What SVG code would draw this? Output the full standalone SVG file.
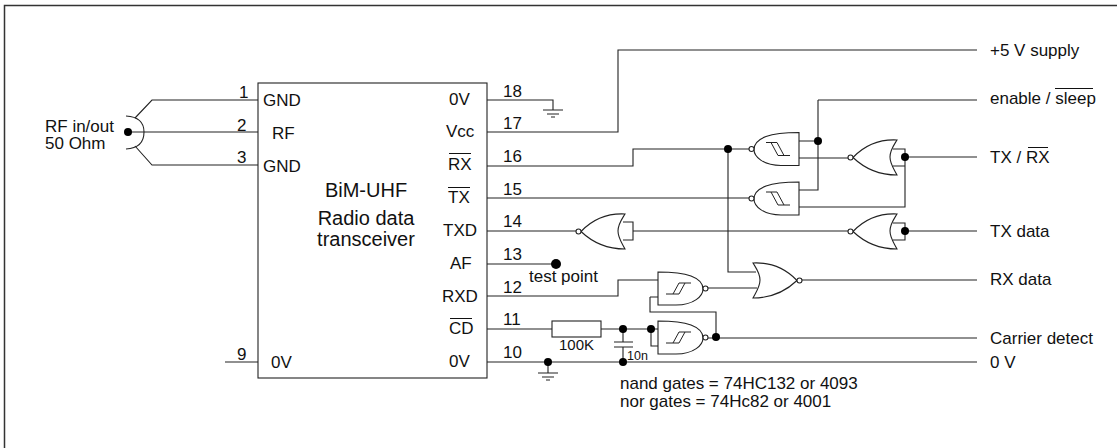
<svg xmlns="http://www.w3.org/2000/svg" width="1117" height="448" viewBox="0 0 1117 448">
<style>
text{font-family:"Liberation Sans",Arial,sans-serif;font-size:17px;fill:#111}
.s{font-size:12.500px}
.b{font-size:20px}
.m{text-anchor:middle}
.w{fill:none;stroke:#222;stroke-width:1.100}
.g{fill:#fff;stroke:#222;stroke-width:1.100}
.h{fill:none;stroke:#222;stroke-width:1}
.d{fill:#000}
.o{fill:none;stroke:#111;stroke-width:1}
</style>
<defs>
<g id="nandgate">
<path class="g" d="M45 0V33H27C9 33 0 24 0 17C0 11 4 7 12 4C20 1 30 0 45 0Z"/>
<circle class="g" cx="-2.500" cy="16.500" r="2.500"/>
</g>
<g id="norgate">
<path class="g" d="M44 0C41 5 37 10 37 17C37 24 41 29 44 35C24 35 11 28 0 17.500C11 6 24 -1 44 0Z"/>
<circle class="g" cx="-2.500" cy="17.500" r="2.500"/>
</g>
<path id="hystL" class="h" d="M12 10H23M17 10L24 23M23 10L30 23M24 23H36"/>
<path id="hystR" class="h" d="M8 22H21M15 22L21 11M21 22L27 11M21 11H33"/>
<g id="gnd"><path class="w" d="M-10 0H10M-6 4H6M-2 7H2"/></g>
</defs>
<rect width="1117" height="448" fill="#fff"/>
<path d="M4.500 448V5.500H1117" fill="none" stroke="#333" stroke-width="1.500"/>
<g id="connectors">
<path class="w" d="M487 100H553V110"/>
<path class="w" d="M487 132H618V50H977"/>
<path class="w" d="M487 166H633V149H750"/>
<path class="w" d="M487 198H750"/>
<path class="w" d="M487 231H576"/>
<path class="w" d="M623 222H633V240H623M633 231H848"/>
<path class="w" d="M487 264H556"/>
<path class="w" d="M487 296H618V280H658"/>
<path class="w" d="M487 329H552M601 329H658M651 329V346H658"/>
<path class="w" d="M487 362H977"/>
<path class="w" d="M225 362H258"/>
<path class="w" d="M728 149V272H756"/>
<path class="w" d="M799 141H818M818 100V190H799M818 100H977"/>
<path class="w" d="M799 158H848"/>
<path class="w" d="M799 207H905V149H893M893 166H905M905 157H977"/>
<path class="w" d="M893 223H905V240H893M905 231H977"/>
<path class="w" d="M707 288H757"/>
<path class="w" d="M801 280H977"/>
<path class="w" d="M650 297V312H716V338M650 297H658"/>
<path class="w" d="M707 338H977"/>
<path class="w" d="M623 329V342M614 342H633M614 347H633M623 347V362"/>
<path class="w" d="M548 362V373"/>
<path class="w" d="M135 118L152 100H258M128 132H258M135 146L152 165H258"/>
<path class="w" d="M126 116Q144 117 144 132Q144 148 126 149"/>
<circle class="d" cx="128" cy="132" r="4"/>
<circle class="d" cx="728" cy="149" r="4"/>
<circle class="d" cx="818" cy="141" r="4"/>
<circle class="d" cx="905" cy="157" r="4"/>
<circle class="d" cx="905" cy="231" r="4"/>
<circle class="d" cx="556" cy="264" r="5"/>
<circle class="d" cx="716" cy="337" r="4"/>
<circle class="d" cx="651" cy="329" r="4"/>
<circle class="d" cx="623" cy="329" r="4"/>
<circle class="d" cx="623" cy="362" r="4"/>
<circle class="d" cx="548" cy="362" r="4"/>
<use href="#gnd" x="553" y="110"/>
<use href="#gnd" x="548" y="373"/>
</g>
<g id="bim">
<rect class="g" x="258" y="83" width="229" height="295"/>
<text x="263" y="106">GND</text><text x="272" y="139">RF</text><text x="263" y="172">GND</text><text x="271" y="368">0V</text>
<text x="366" y="197" class="m b">BiM-UHF</text>
<text x="366" y="225" class="m b">Radio data</text>
<text x="366" y="246" class="m b">transceiver</text>
<text x="449" y="105">0V</text><text x="446" y="137">Vcc</text>
<text x="448" y="170">RX</text><path class="o" d="M449 153.500H471"/>
<text x="448" y="203">TX</text><path class="o" d="M448 187.500H470"/>
<text x="443" y="236">TXD</text><text x="450" y="269">AF</text>
<text x="442" y="302">RXD</text>
<text x="449" y="334">CD</text><path class="o" d="M450 318.500H472"/>
<text x="449" y="367">0V</text>
</g>
<g id="pin-labels">
<text x="239" y="98">1</text><text x="237" y="131">2</text><text x="237" y="163">3</text><text x="237" y="360">9</text>
<text x="503" y="97">18</text><text x="503" y="129">17</text><text x="503" y="162">16</text><text x="503" y="195">15</text><text x="503" y="227">14</text><text x="503" y="260">13</text><text x="503" y="293">12</text><text x="503" y="325">11</text><text x="503" y="358">10</text>
</g>
<g id="rf-label"><text x="45" y="132">RF in/out</text><text x="45" y="149">50 Ohm</text></g>
<g id="nand-rx"><use href="#nandgate" x="754" y="132.500"/><use href="#hystL" x="754" y="132.500"/></g>
<g id="nand-tx"><use href="#nandgate" x="754" y="182"/><use href="#hystL" x="754" y="182"/></g>
<g id="nor-rxtx"><use href="#norgate" x="853" y="140"/></g>
<g id="nor-txd-in"><use href="#norgate" x="581" y="214"/></g>
<g id="nor-txd-out"><use href="#norgate" x="853" y="214"/></g>
<g id="nor-rxd"><use href="#norgate" transform="translate(797,263) scale(-1,1)"/></g>
<g id="nand-rxd"><use href="#nandgate" transform="translate(703,272) scale(-1,1)"/><use href="#hystR" x="658" y="272"/></g>
<g id="nand-cd"><use href="#nandgate" transform="translate(703,321) scale(-1,1)"/><use href="#hystR" x="658" y="321"/></g>
<g id="resistor"><rect class="g" x="552" y="321" width="49" height="16"/><text x="559" y="350" style="font-size:15px">100K</text></g>
<g id="cap-label"><text x="627" y="360" class="s">10n</text></g>
<g id="notes">
<text x="529" y="282">test point</text>
<text x="620" y="389">nand gates = 74HC132 or 4093</text>
<text x="620" y="407">nor gates = 74Hc82 or 4001</text>
</g>
<g id="outputs">
<text x="990" y="56">+5 V supply</text>
<text x="990" y="104">enable / sleep</text><path class="o" d="M1055 88.500H1093"/>
<text x="990" y="163">TX / RX</text><path class="o" d="M1028 147.500H1048"/>
<text x="990" y="237">TX data</text>
<text x="990" y="285">RX data</text>
<text x="990" y="344">Carrier detect</text>
<text x="990" y="368">0 V</text>
</g>
</svg>
